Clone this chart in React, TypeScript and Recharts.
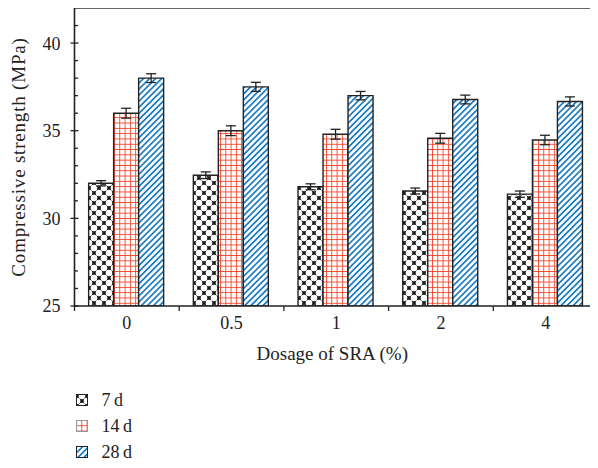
import React from 'react';
import { BarChart, Bar, XAxis, YAxis, ErrorBar, ReferenceLine } from 'recharts';

const categories = ['0', '0.5', '1', '2', '4'];
const strength7d = [32.0, 32.46, 31.8, 31.56, 31.38];
const strength14d = [36.0, 35.0, 34.8, 34.57, 34.47];
const strength28d = [38.0, 37.5, 37.0, 36.78, 36.67];
const error7d = [0.15, 0.19, 0.17, 0.17, 0.18];
const error14d = [0.28, 0.28, 0.28, 0.28, 0.27];
const error28d = [0.25, 0.26, 0.24, 0.25, 0.26];
const seriesNames = ['7\u2009d', '14\u2009d', '28\u2009d'];
const yTicks = [25, 26, 27, 28, 29, 30, 31, 32, 33, 34, 35, 36, 37, 38, 39, 40, 41];
const yDomain = [25, 42];
const xTitle = 'Dosage of SRA (%)';
const yTitle = 'Compressive strength (MPa)';

const data = categories.map((c, i) => ({
  dosage: c,
  d7: strength7d[i],
  e7: error7d[i],
  d14: strength14d[i],
  e14: error14d[i],
  d28: strength28d[i],
  e28: error28d[i],
}));

const FONT = "'Liberation Serif', 'Times New Roman', serif";
const INK = '#222';
const CHART_W = 590;
const CHART_H = 380;
const Y_AXIS_W = 66.5;
const BAND = (CHART_W - Y_AXIS_W) / categories.length;

const patternIds = ['pat7', 'pat14', 'pat28'];
const dataKeys = ['d7', 'd14', 'd28'];
const errKeys = ['e7', 'e14', 'e28'];

const Patterns = () => (
  <svg width={0} height={0} style={{ position: 'absolute' }}>
    <defs>
      <pattern id="pat7" patternUnits="userSpaceOnUse" width={10} height={10} x={1} y={2}>
        <rect x={0} y={0} width={10} height={10} fill="#1a1a1a" />
        <circle cx={0} cy={5} r={3.3} fill="#fff" />
        <circle cx={10} cy={5} r={3.3} fill="#fff" />
        <circle cx={5} cy={0} r={3.3} fill="#fff" />
        <circle cx={5} cy={10} r={3.3} fill="#fff" />
      </pattern>
      <pattern id="pat14" patternUnits="userSpaceOnUse" width={5.3} height={5.3}>
        <rect x={0} y={0} width={5.3} height={5.3} fill="#fff" />
        <path d="M0,0.5H5.3M0.5,0V5.3" stroke="#f0442a" strokeWidth={0.9} />
      </pattern>
      <pattern id="pat28" patternUnits="userSpaceOnUse" width={4.3} height={10} patternTransform="rotate(45)">
        <rect x={0} y={0} width={4.3} height={10} fill="#fff" />
        <rect x={0} y={0} width={1.7} height={10} fill="#1a7cc4" />
      </pattern>
    </defs>
  </svg>
);

const YTick = (props: any) => {
  const { x, y, payload } = props;
  const v = payload.value;
  const major = v % 5 === 0;
  return (
    <g>
      {major ? (
        <line x1={x - 4} x2={x + 4} y1={y} y2={y} stroke={INK} strokeWidth={1.3} />
      ) : (
        <line x1={x} x2={x + 3.5} y1={y} y2={y} stroke={INK} strokeWidth={1.3} />
      )}
      {major && (
        <text x={x - 14} y={y} dy="0.36em" textAnchor="end" fontFamily={FONT} fontSize={18} fill={INK}>
          {v}
        </text>
      )}
    </g>
  );
};

const XTick = (props: any) => {
  const { x, y, payload, index } = props;
  return (
    <g>
      <line x1={x - BAND / 2} x2={x - BAND / 2} y1={y} y2={y + 5} stroke={INK} strokeWidth={1.3} />
      {index === categories.length - 1 && (
        <line x1={x + BAND / 2} x2={x + BAND / 2} y1={y} y2={y + 5} stroke={INK} strokeWidth={1.3} />
      )}
      <text x={x} y={y + 23} textAnchor="middle" fontFamily={FONT} fontSize={18} fill={INK}>
        {payload.value}
      </text>
    </g>
  );
};

export default function App() {
  return (
    <div style={{ position: 'relative', top: -2, width: CHART_W, height: 460, fontFamily: FONT }}>
      <Patterns />
      <BarChart
        width={CHART_W}
        height={CHART_H}
        data={data}
        margin={{ top: 2, right: 0, bottom: 0, left: 0 }}
        barCategoryGap="13.5%"
        barGap={0}
      >
        <XAxis
          dataKey="dosage"
          height={80}
          axisLine={{ stroke: INK, strokeWidth: 1.6 }}
          tickLine={false}
          tickSize={0}
          tickMargin={0}
          interval={0}
          tick={<XTick />}
          label={{ value: xTitle, position: 'insideTop', offset: 41, dx: -4, fontFamily: FONT, fontSize: 19, fill: INK }}
        />
        <YAxis
          type="number"
          domain={yDomain}
          ticks={yTicks}
          interval={0}
          width={Y_AXIS_W}
          axisLine={{ stroke: INK, strokeWidth: 1.6 }}
          tickLine={false}
          tickSize={0}
          tickMargin={0}
          tick={<YTick />}
          allowDataOverflow
          label={{
            value: yTitle,
            angle: -90,
            position: 'insideLeft',
            offset: 10,
            style: { textAnchor: 'middle', letterSpacing: '0.8px' },
            fontFamily: FONT,
            fontSize: 19,
            fill: INK,
          }}
        />
        <ReferenceLine y={42} stroke="#333" strokeWidth={1.6} />
        {dataKeys.map((k, i) => (
          <Bar
            key={k}
            dataKey={k}
            name={seriesNames[i]}
            fill={`url(#${patternIds[i]})`}
            stroke={INK}
            strokeWidth={1.4}
            isAnimationActive={false}
          >
            <ErrorBar dataKey={errKeys[i]} width={5} stroke={INK} strokeWidth={1.3} direction="y" isAnimationActive={false} />
          </Bar>
        ))}
      </BarChart>
      <div style={{ position: 'absolute', left: 67.5, top: 381, fontSize: 18, color: INK }}>
        {seriesNames.map((n, i) => (
          <div key={n} style={{ display: 'flex', alignItems: 'center', height: 26 }}>
            <svg width={12} height={12} style={{ display: 'block' }}>
              <rect x={0.5} y={0.5} width={11} height={11} fill={`url(#${patternIds[i]})`} stroke={i === 1 ? '#999' : INK} strokeWidth={1} />
            </svg>
            <span style={{ marginLeft: 14 }}>{n}</span>
          </div>
        ))}
      </div>
    </div>
  );
}
